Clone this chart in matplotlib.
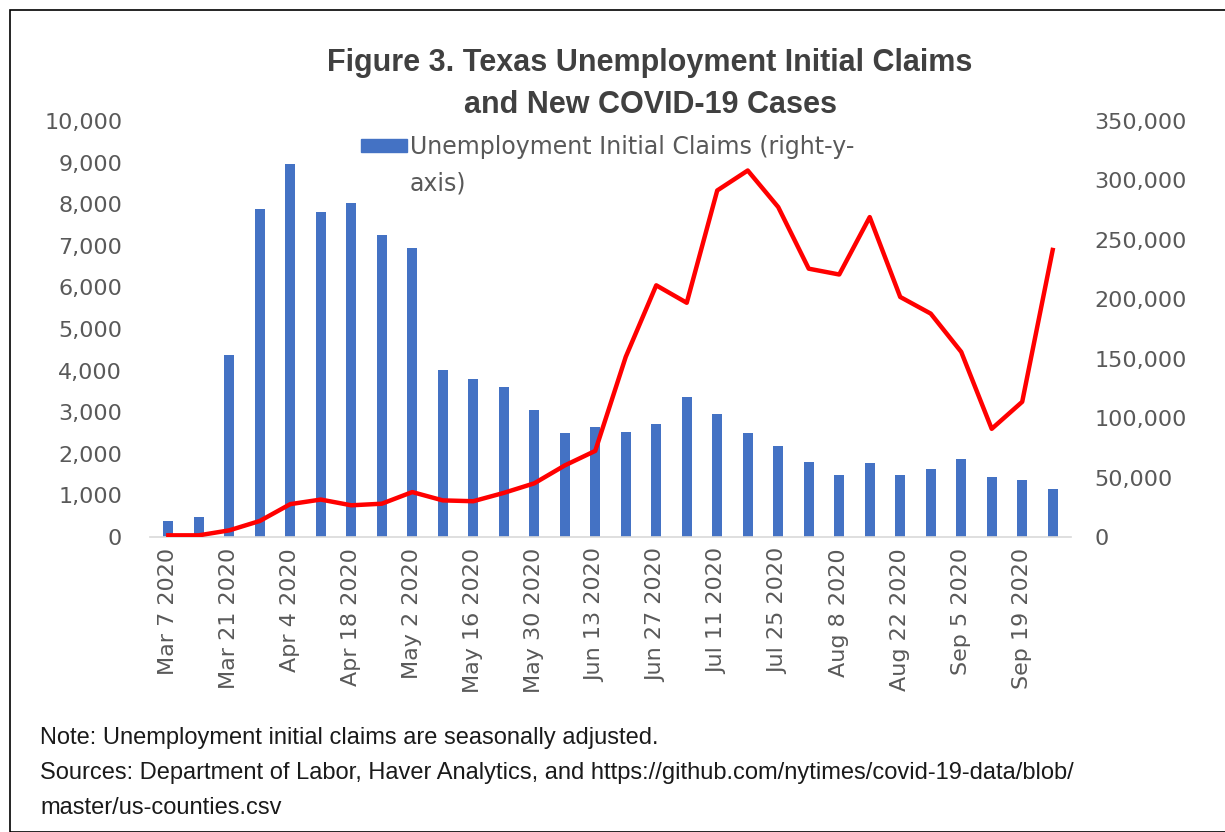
import matplotlib.pyplot as plt
from matplotlib.patches import Rectangle
from matplotlib.ticker import FuncFormatter

# weekly data, Mar 7 2020 .. Sep 26 2020
weeks = ['Mar 7 2020', 'Mar 14 2020', 'Mar 21 2020', 'Mar 28 2020', 'Apr 4 2020',
         'Apr 11 2020', 'Apr 18 2020', 'Apr 25 2020', 'May 2 2020', 'May 9 2020',
         'May 16 2020', 'May 23 2020', 'May 30 2020', 'Jun 6 2020', 'Jun 13 2020',
         'Jun 20 2020', 'Jun 27 2020', 'Jul 4 2020', 'Jul 11 2020', 'Jul 18 2020',
         'Jul 25 2020', 'Aug 1 2020', 'Aug 8 2020', 'Aug 15 2020', 'Aug 22 2020',
         'Aug 29 2020', 'Sep 5 2020', 'Sep 12 2020', 'Sep 19 2020', 'Sep 26 2020']

# unemployment initial claims (right axis)
claims = [13500, 16800, 152900, 276300, 314200, 273400, 281000, 254400, 243100, 140800,
          133300, 126200, 107200, 87500, 92500, 88300, 94800, 117800, 103200, 87500,
          76300, 63100, 51900, 62300, 52500, 57000, 65400, 50500, 47700, 40100]

# new covid-19 cases (left axis)
cases = [40, 40, 160, 385, 790, 900, 762, 800, 1080, 880,
         860, 1060, 1290, 1720, 2070, 4330, 6050, 5630, 8330, 8810,
         7930, 6450, 6310, 7690, 5770, 5370, 4450, 2600, 3250, 6900]

left_ticks = list(range(0, 10001, 1000))
right_ticks = list(range(0, 350001, 50000))

grey = '#595959'
fig = plt.figure(figsize=(12.25, 8.32), dpi=100)
fig.patches.append(Rectangle((10 / 1225, 0), 1.2, (832 - 10) / 832, transform=fig.transFigure,
                             fill=False, edgecolor='black', linewidth=1.2))

ax = fig.add_axes([150 / 1225, 1 - 537 / 832, 921 / 1225, 416 / 832])
ax2 = ax.twinx()
ax.set_zorder(2)
ax.patch.set_visible(False)

x = list(range(len(weeks)))
ax2.bar(x, claims, width=0.33, color='#4472C4', zorder=2)
ax.plot(x, cases, color='#FF0000', linewidth=3.2, solid_joinstyle='round', zorder=3)

ax.set_xlim(-0.6, len(weeks) - 0.4)
ax.set_ylim(0, 10000)
ax2.set_ylim(0, 350000)
ax.set_yticks(left_ticks)
ax2.set_yticks(right_ticks)
fmt = FuncFormatter(lambda v, p: f'{int(v):,}')
ax.yaxis.set_major_formatter(fmt)
ax2.yaxis.set_major_formatter(fmt)

ax.set_xticks(x[::2])
ax.set_xticklabels(weeks[::2], rotation=90)

for a in (ax, ax2):
    for s in a.spines.values():
        s.set_visible(False)
    a.tick_params(length=0, colors=grey, labelsize=16)
ax.spines['bottom'].set_visible(True)
ax.spines['bottom'].set_color('#D9D9D9')
ax.spines['bottom'].set_linewidth(1.2)
ax.tick_params(axis='y', pad=20)
ax2.tick_params(axis='y', pad=17)
ax.tick_params(axis='x', pad=8)

# legend (bars only, label wraps onto two lines)
ax.add_patch(Rectangle((361 / 1225, 1 - 152 / 832), 46 / 1225, 13 / 832, transform=fig.transFigure,
                       color='#4472C4', clip_on=False))
fig.text(410 / 1225, 1 - 135 / 832, 'Unemployment Initial Claims (right-y-\naxis)', ha='left', va='top',
         fontsize=17, color=grey, linespacing=1.65)

fig.text(650 / 1225, 1 - 84 / 832, 'Figure 3. Texas Unemployment Initial Claims\nand New COVID-19 Cases',
         ha='center', va='center', fontsize=22, fontweight='bold', color='#404040',
         family='Liberation Sans', linespacing=1.56)

notes = ['Note: Unemployment initial claims are seasonally adjusted.',
         'Sources: Department of Labor, Haver Analytics, and https://github.com/nytimes/covid-19-data/blob/',
         'master/us-counties.csv']
for i, line in enumerate(notes):
    fig.text(40 / 1225, 1 - (738 + 35 * i) / 832, line, ha='left', va='center', fontsize=17,
             family='Liberation Sans', color='#1a1a1a')

fig.savefig('out.png', dpi=100)
